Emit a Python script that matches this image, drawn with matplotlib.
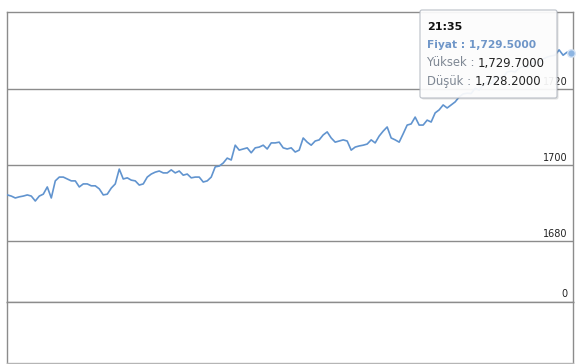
import matplotlib.pyplot as plt
from matplotlib.patches import FancyBboxPatch

# price series (5-minute steps)
prices = [
    1692.2, 1691.9, 1691.4, 1691.7, 1691.9, 1692.2, 1691.9, 1690.6, 1691.9, 1692.4,
    1694.3, 1691.4, 1695.9, 1696.9, 1696.9, 1696.4, 1695.9, 1695.9, 1694.3, 1695.1,
    1695.1, 1694.6, 1694.6, 1693.8, 1692.2, 1692.4, 1694.0, 1695.1, 1699.0, 1696.4,
    1696.7, 1696.1, 1695.9, 1694.8, 1695.1, 1696.9, 1697.7, 1698.2, 1698.5, 1698.0,
    1698.0, 1698.8, 1698.0, 1698.5, 1697.4, 1697.7, 1696.7, 1696.9, 1696.9, 1695.6,
    1695.9, 1696.9, 1699.6, 1699.8, 1700.6, 1701.9, 1701.4, 1705.3, 1704.0, 1704.3,
    1704.6, 1703.3, 1704.6, 1704.8, 1705.3, 1704.3, 1705.9, 1705.9, 1706.1, 1704.6,
    1704.3, 1704.6, 1703.5, 1704.0, 1707.2, 1706.1, 1705.3, 1706.4, 1706.7, 1708.0,
    1708.8, 1707.2, 1706.1, 1706.4, 1706.7, 1706.4, 1704.0, 1704.8, 1705.1, 1705.3,
    1705.6, 1706.7, 1705.9, 1707.7, 1709.0, 1710.1, 1707.2, 1706.7, 1706.1, 1708.3,
    1710.6, 1710.9, 1712.7, 1710.6, 1710.6, 1711.9, 1711.4, 1713.8, 1714.6, 1715.9,
    1715.1, 1715.9, 1716.7, 1718.0, 1718.8, 1719.0, 1718.9, 1720.3, 1719.8, 1721.1,
    1721.9, 1721.5, 1723.0, 1723.2, 1723.1, 1724.6, 1724.8, 1724.6, 1725.6, 1726.1,
    1725.8, 1726.9, 1727.2, 1727.0, 1728.0, 1728.5, 1728.8, 1729.0, 1730.4, 1729.0,
    1729.8, 1729.5,
]
price_ticks = [1680, 1700, 1720]
volume_ticks = [0]

tip_time = '21:35'
tip_price = '1,729.5000'
tip_high = '1,729.7000'
tip_low = '1,728.2000'

W, H = 578, 364
fig = plt.figure(figsize=(W / 100, H / 100), dpi=100)
fig.patch.set_facecolor('white')

grid_col = '#8c8c8c'
line_col = '#6194cf'

# price panel
ax = fig.add_axes([7.3 / W, (H - 302) / H, (572.5 - 7.3) / W, (302 - 12.3) / H])
x = list(range(len(prices)))
ax.plot(x, prices, color=line_col, lw=1.2, zorder=3)
ax.plot(x[-1], prices[-1], 'o', ms=5.5, mfc='#8db5e2', mec='#d6e4f5', mew=1.0,
        clip_on=False, zorder=4)
ax.set_xlim(0, len(prices) - 1 + 0.35)
ax.set_ylim(1664, 1740.3)
for v in price_ticks:
    ax.axhline(v, color=grid_col, lw=1.0, zorder=1)
    ax.text(0.991, v + 0.7, str(v), transform=ax.get_yaxis_transform(),
            ha='right', va='bottom', fontsize=7, color='#222222', zorder=2)
for v in volume_ticks:
    ax.text(0.991, 1664 + 0.7, str(v), transform=ax.get_yaxis_transform(),
            ha='right', va='bottom', fontsize=7, color='#222222', zorder=2)
ax.set_xticks([])
ax.set_yticks([])
for s in ax.spines.values():
    s.set_color(grid_col)
    s.set_linewidth(1.0)

# empty volume panel below
ax2 = fig.add_axes([7.3 / W, (H - 363.3) / H, (572.5 - 7.3) / W, (363.3 - 302) / H])
ax2.set_xticks([])
ax2.set_yticks([])
for s in ax2.spines.values():
    s.set_color(grid_col)
    s.set_linewidth(1.0)
ax2.spines['bottom'].set_color('#b5b5b5')

# tooltip overlay (pixel coordinates)
ov = fig.add_axes([0, 0, 1, 1], zorder=10)
ov.set_xlim(0, W)
ov.set_ylim(H, 0)
ov.axis('off')
ov.patch.set_alpha(0)
ov.add_patch(FancyBboxPatch((421.5, 11.5), 137, 88, boxstyle='round,pad=0,rounding_size=2',
                            fc='#000000', alpha=0.12, ec='none'))
ov.add_patch(FancyBboxPatch((420, 10), 137, 88, boxstyle='round,pad=0,rounding_size=2',
                            fc='white', alpha=0.92, ec='#b4b9c2', lw=0.8))
ov.text(427, 27, tip_time, fontsize=8, fontweight='bold', color='#111111', va='center')
ov.text(427, 45, 'Fiyat : ' + tip_price, fontsize=7.7, fontweight='bold', color='#6f96c8',
        va='center')
lab = ov.text(427, 63, 'Yüksek :', fontsize=8.4, color='#7f8894', va='center')
ov.annotate(tip_high, xy=(1, 0.5), xycoords=lab, xytext=(2.5, 0),
            textcoords='offset points', fontsize=8.4, color='#222222', va='center')
lab = ov.text(427, 81, 'Düşük :', fontsize=8.4, color='#7f8894', va='center')
ov.annotate(tip_low, xy=(1, 0.5), xycoords=lab, xytext=(2.5, 0),
            textcoords='offset points', fontsize=8.4, color='#222222', va='center')

fig.savefig('out.png', dpi=100, facecolor='white')
